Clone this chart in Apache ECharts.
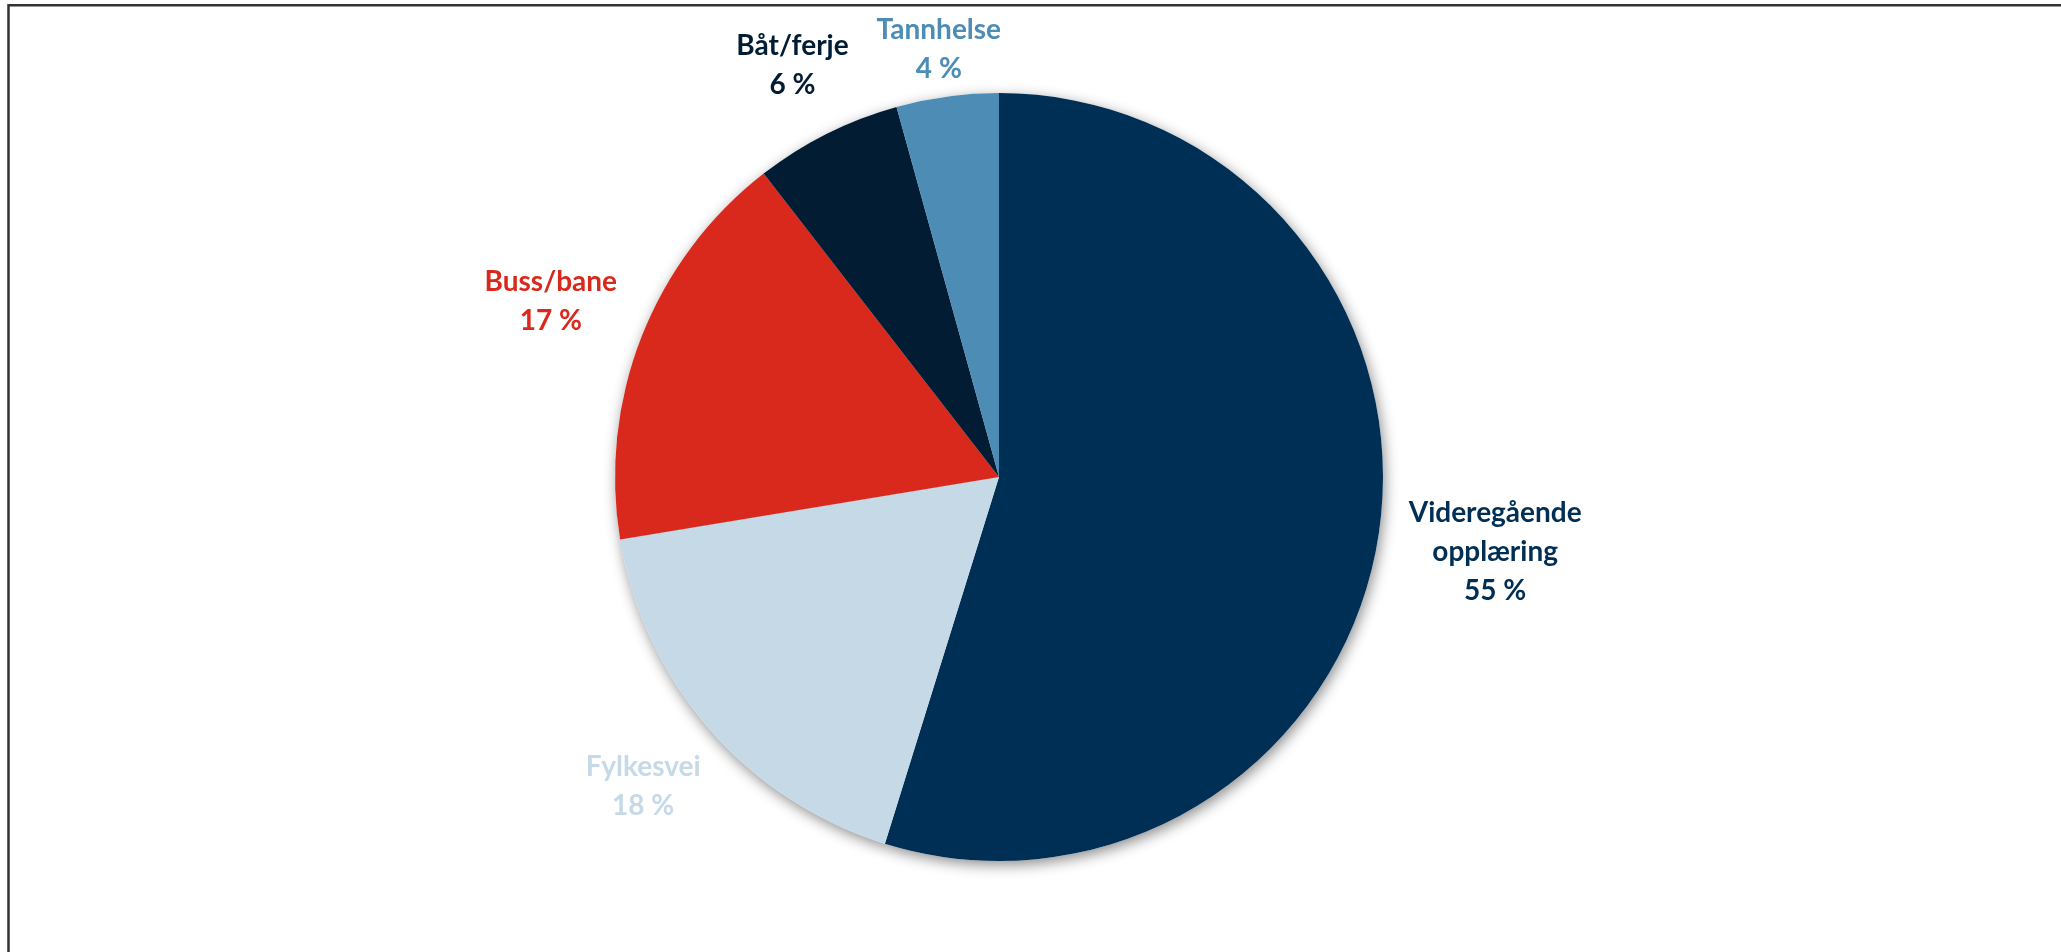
<!DOCTYPE html>
<html><head><meta charset="utf-8">
<script src="https://cdn.jsdelivr.net/npm/echarts@6/dist/echarts.min.js"></script>
<style>html,body{margin:0;padding:0;background:#fff;overflow:hidden}#c{width:2061px;height:952px}</style>
</head><body><div id="c"></div>
<script>
const categories = ['Videregående opplæring', 'Fylkesvei', 'Buss/bane', 'Båt/ferje', 'Tannhelse'];
const values = [54.8, 17.6, 17.1, 6.2, 4.3];
const colors = ['#002F56', '#C6D9E6', '#D9291D', '#021C33', '#4C8CB5'];

const CX = 999, CY = 477, R = 384, GAP = 25;
const FS = 28, LH = 39;
const total = values.reduce((a, b) => a + b, 0);
function midDir(i) {
  let cum = 0;
  for (let k = 0; k < i; k++) cum += values[k];
  const a = (cum + values[i] / 2) / total * 2 * Math.PI;
  return [Math.sin(a), -Math.cos(a)];
}
const chart = echarts.init(document.getElementById('c'), null, {renderer: 'canvas'});
const data = categories.map((n, i) => ({name: n, value: values[i], itemStyle: {color: colors[i]}}));
chart.setOption({
  animation: false,
  graphic: [{
    type: 'rect', silent: true, z: 100,
    shape: {x: 8.5, y: 5.3, width: 2300, height: 1300},
    style: {fill: 'none', stroke: '#333', lineWidth: 2.5}
  }],
  series: [
    {
      type: 'pie', silent: true, z: 1,
      center: [CX, CY], radius: R, startAngle: 90,
      label: {show: false}, labelLine: {show: false},
      itemStyle: {color: '#fff', borderWidth: 0, shadowBlur: 14, shadowOffsetX: 2, shadowOffsetY: 4, shadowColor: 'rgba(0,0,0,0.45)'},
      data: values.map((v, i) => ({name: categories[i], value: v}))
    },
    {
      type: 'pie', z: 2,
      center: [CX, CY], radius: R, startAngle: 90,
      avoidLabelOverlap: false,
      percentPrecision: 0,
      itemStyle: {borderWidth: 0},
      emphasis: {disabled: true},
      label: {
        show: true, position: 'outside',
        color: 'inherit',
        fontFamily: 'Lato', fontWeight: 'bold', fontSize: FS, lineHeight: LH,
        formatter: p => p.name.replace(' ', '\n') + '\n' + p.percent + ' %'
      },
      labelLine: {show: false},
      labelLayout: function (p) {
        const [ux, uy] = midDir(p.dataIndex);
        const lines = Math.round(p.labelRect.height / LH);
        const w = p.labelRect.width / 2;
        const h = (lines - 1) * LH / 2 + FS * 0.36;
        const d = R + GAP + Math.abs(ux) * w + Math.abs(uy) * h;
        let y = CY + uy * d;
        const minY = 20 + h;
        if (y < minY) y = minY;
        return {x: CX + ux * d, y: y, align: 'center', verticalAlign: 'middle'};
      },
      data: data
    }
  ]
});
</script></body></html>
